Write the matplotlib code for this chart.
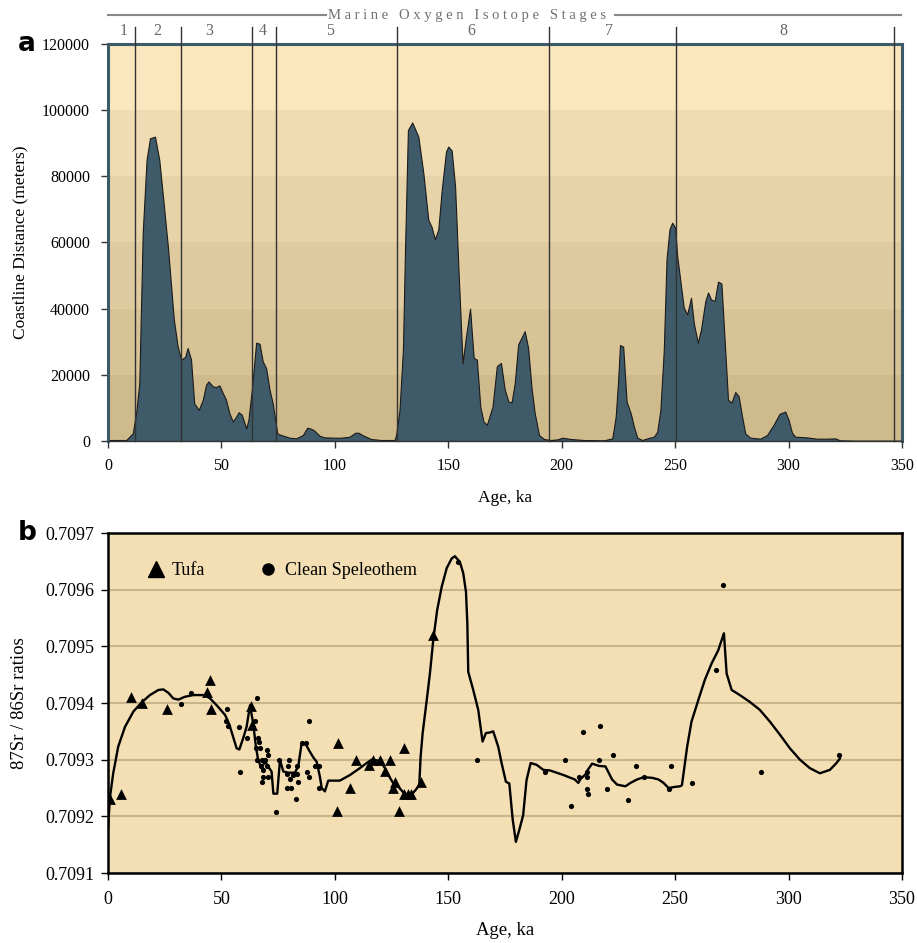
import numpy as np
import matplotlib
matplotlib.use("Agg")
import matplotlib.pyplot as plt
from matplotlib.lines import Line2D

plt.rcParams["font.family"] = ["Liberation Serif", "DejaVu Serif"]

# ---------- panel a: coastline distance ----------
age_a = [0, 5, 8, 10.9, 12.4, 13.8, 15.3, 17, 18.5, 20.7, 22.6, 24.5, 26.5, 29, 30.7, 32.2,
         34, 35.1, 36.6, 38, 40, 41.8, 43.2, 44.3, 46.2, 47.6, 49.1, 50.6, 52, 53.5, 55, 56.5,
         57.6, 59, 60.9, 61.9, 63.4, 65.3, 66.8, 68.2, 69.7, 71.2, 72.6, 74.6, 76.3, 77.8, 80,
         82.9, 85.9, 87.8, 89.6, 91, 93.2, 95.4, 99.9, 102.8, 106.5, 109, 110.4, 112.4, 116,
         120.4, 126.3, 127, 128.5, 130, 131, 132.2, 134.1, 136.8, 139, 141.2, 142.6, 144.1,
         145.6, 147.1, 149, 150, 151.5, 153, 154.6, 156.3, 157.8, 159.6, 161.2, 162.6, 164.1,
         165.5, 167, 169.5, 171.4, 173.2, 174.9, 176.5, 177.9, 179.3, 180.8, 183.7, 185.2,
         186.7, 188.1, 190, 192.2, 195.2, 198.1, 200.3, 204, 209.8, 218.6, 222.3, 223.8, 224.8,
         225.7, 227.1, 228.6, 230.4, 231.8, 233.3, 235.5, 237.7, 240.6, 242.1, 243.5, 245,
         246.2, 247.5, 248.7, 250, 250.9, 252.3, 253.8, 255.3, 257, 258.2, 260, 261.4, 263.3,
         264.5, 265.8, 267.4, 268.9, 270.4, 271.8, 273.3, 274.8, 276.5, 278, 279.5, 280.9,
         283.1, 287.5, 290.5, 293.4, 296, 298.5, 300, 301.5, 302.9, 308, 312.5, 316.9, 320.5,
         322.7, 330, 350]
dist_a = [300, 300, 300, 2300, 8400, 17500, 62900, 85000, 91500, 92000, 85000, 72000, 58000,
          36800, 28600, 24600, 25400, 28100, 24600, 11400, 9400, 12500, 17000, 18000, 16500,
          16300, 16800, 14500, 12500, 8400, 5900, 7400, 8700, 7900, 3800, 6400, 15500, 29700,
          29400, 24100, 22000, 15500, 11400, 2300, 1800, 1500, 1000, 800, 1800, 4000, 3700,
          3100, 1600, 1100, 1000, 1000, 1300, 2500, 2500, 1700, 600, 300, 300, 1800, 9400,
          27600, 60000, 94000, 96300, 92000, 81000, 66800, 64800, 61000, 64000, 75900, 87500,
          89000, 87800, 76900, 50000, 23500, 31600, 40000, 25100, 24600, 10400, 5900, 4900,
          10400, 22600, 23600, 15500, 11900, 11700, 17500, 29200, 33200, 28100, 16000, 8400,
          1800, 600, 300, 500, 1000, 600, 300, 200, 800, 7400, 17500, 29000, 28500, 11900,
          8400, 4400, 1000, 300, 800, 1300, 2800, 9400, 27600, 55000, 64000, 66000, 64500,
          56000, 48400, 40300, 38300, 43300, 35700, 29700, 33700, 42300, 44900, 42800, 42300,
          48200, 47600, 30700, 12500, 11600, 14800, 13500, 7400, 2300, 1000, 700, 1800, 4900,
          8200, 8900, 6400, 2500, 1300, 1100, 700, 700, 800, 200, 100, 100]

mis_bounds = [12, 32, 63.5, 74, 127.5, 194.5, 250.3, 346.4]
mis_labels = ["1", "2", "3", "4", "5", "6", "7", "8"]
mis_label_x = [7, 21.6, 44.5, 68.3, 98, 160, 221, 297.5]

band_colors = ["#CFBA8C", "#D7C396", "#DFCB9F", "#E7D3A8", "#F0DCB2", "#FBE7BE"]

# ---------- panel b: 87Sr/86Sr ----------
age_line = [0, 0.9, 2.3, 4.5, 7.5, 11.2, 14.8, 18.5, 22.2, 24.4, 26.6, 28.8, 31, 33.9, 37.6,
            42.7, 45, 47.9, 51.6, 53.5, 54.8, 56.7, 57.9, 59.6, 61.1, 62.6, 64, 65.2, 66.2,
            67.7, 69.2, 70.6, 72.1, 72.9, 74.6, 75.8, 77.3, 79.5, 82.4, 83.9, 84.6, 85.4, 87.3,
            89, 90.5, 92, 93.4, 94.2, 95.6, 97.1, 99.3, 102.2, 106.7, 111, 114, 116.2, 119.9,
            122.1, 124, 125.8, 128, 130.5, 133.1, 135.3, 137.2, 137.8, 138.7, 140.5, 141.9,
            143.4, 145.1, 147.1, 149.3, 151.5, 152.9, 155.1, 156.6, 157.8, 158.4, 158.8, 161,
            163.2, 165.1, 166.6, 168.4, 169.8, 172, 173.5, 175.4, 176.9, 178.4, 179.8, 181.3,
            183, 184.5, 186.3, 188.9, 191.9, 194.8, 200.7, 205.8, 207.3, 208.3, 210.5, 211.5,
            213.4, 216.4, 219.3, 220.8, 222.2, 224.4, 228.1, 230.3, 233.2, 236.1, 239.8, 242.7,
            244.9, 247.1, 250, 252.2, 253, 254, 255.3, 257.2, 260.2, 263.1, 266.1, 269, 271.5,
            272.7, 274.9, 278.5, 282.9, 287.3, 291.8, 296.2, 300.6, 305, 309.4, 313.8, 318.2,
            321.1, 322.6]
sr_line = [0.70918, 0.709235, 0.709276, 0.709323, 0.709358, 0.709385, 0.709401, 0.709414,
           0.709423, 0.709424, 0.709418, 0.709408, 0.709406, 0.709411, 0.709414, 0.709414,
           0.709408, 0.709396, 0.709379, 0.709362, 0.709345, 0.70932, 0.709318, 0.709338,
           0.709358, 0.709396, 0.709364, 0.709323, 0.709299, 0.709285, 0.709297, 0.709288,
           0.709279, 0.70924, 0.70924, 0.709299, 0.709279, 0.709277, 0.709277, 0.709289,
           0.709308, 0.70933, 0.709326, 0.709314, 0.709304, 0.709296, 0.70927, 0.70925,
           0.709244, 0.709263, 0.709263, 0.709263, 0.709273, 0.709285, 0.709294, 0.7093,
           0.709298, 0.709285, 0.70927, 0.709258, 0.709252, 0.709241, 0.709236, 0.709245,
           0.709255, 0.709305, 0.709347, 0.709405, 0.709452, 0.709512, 0.709564, 0.709605,
           0.709638, 0.709655, 0.709659, 0.709649, 0.709629, 0.709596, 0.70954, 0.709455,
           0.709423, 0.709388, 0.709332, 0.709347, 0.709348, 0.70935, 0.709323, 0.709294,
           0.709261, 0.709258, 0.709194, 0.709155, 0.709176, 0.709202, 0.709264, 0.709294,
           0.709291, 0.709282, 0.709281, 0.709273, 0.709265, 0.709259, 0.709266, 0.709274,
           0.709282, 0.709293, 0.709289, 0.709288, 0.709276, 0.709265, 0.709256, 0.709253,
           0.709259, 0.709265, 0.709269, 0.709268, 0.709265, 0.709259, 0.70925, 0.709252,
           0.709253, 0.709255, 0.709285, 0.709323, 0.709367, 0.709405, 0.709441, 0.70947,
           0.709493, 0.709523, 0.709452, 0.709423, 0.709414, 0.709402, 0.709388, 0.709367,
           0.709344, 0.70932, 0.7093, 0.709285, 0.709276, 0.709282, 0.709294, 0.709302]

tufa_age = [1.0, 5.8, 10.1, 15.2, 25.8, 43.6, 45.0, 45.3, 62.9, 63.3, 101.5, 101.0, 106.6,
            109.4, 115.0, 117.0, 119.9, 124.2, 122.2, 125.5, 126.7, 128.2, 130.4, 130.4,
            132.1, 133.7, 138.1, 143.4]
tufa_sr = [0.70923, 0.70924, 0.70941, 0.70940, 0.70939, 0.70942, 0.70944, 0.70939, 0.709394,
           0.709361, 0.70933, 0.70921, 0.70925, 0.70930, 0.70929, 0.70930, 0.70930, 0.70930,
           0.70928, 0.70925, 0.70926, 0.70921, 0.70932, 0.70924, 0.70924, 0.70924, 0.70926,
           0.70952]

spel_age = [32.1, 36.8, 52.3, 52.0, 53.0, 57.9, 58.2, 61.1, 64.8, 64.0, 65.8, 66.2, 66.7,
            65.2, 67.0, 69.9, 70.7, 65.8, 67.7, 69.2, 67.3, 69.9, 68.4, 68.2, 70.7, 67.7, 75.2,
            74.0, 79.9, 79.5, 79.0, 81.4, 80.2, 83.4, 83.1, 83.6, 79.0, 80.5, 82.8, 85.4, 87.3,
            88.7, 87.8, 88.7, 91.2, 93.1, 93.1, 154.4, 162.8, 192.7, 201.3, 204.0, 207.6, 209.5,
            211.3, 211.3, 211.0, 211.5, 216.4, 216.7, 220.0, 222.7, 229.2, 232.9, 236.1, 247.5,
            248.2, 257.6, 267.8, 271.2, 288.0, 322.4]
spel_sr = [0.709398, 0.709418, 0.709389, 0.709369, 0.709359, 0.709358, 0.709279, 0.709339,
           0.709369, 0.709358, 0.709408, 0.709339, 0.709332, 0.70932, 0.70932, 0.709317,
           0.709308, 0.709299, 0.709299, 0.709299, 0.709289, 0.709289, 0.709281, 0.709269,
           0.70927, 0.70926, 0.709299, 0.709208, 0.709299, 0.709289, 0.709275, 0.709273,
           0.709265, 0.709289, 0.709275, 0.70926, 0.70925, 0.70925, 0.70923, 0.70933, 0.70933,
           0.709368, 0.709279, 0.709269, 0.709289, 0.709289, 0.70925, 0.709649, 0.7093,
           0.709279, 0.709299, 0.709219, 0.709269, 0.709349, 0.709278, 0.709269, 0.709249,
           0.709239, 0.709299, 0.709359, 0.709249, 0.709309, 0.709229, 0.709289, 0.709269,
           0.709249, 0.709289, 0.709259, 0.709458, 0.709608, 0.709279, 0.709308]

fig = plt.figure(figsize=(9.17, 9.43), dpi=100)

# ===== panel a =====
ax1 = fig.add_axes([108 / 917, 1 - 441 / 943, 794 / 917, 397 / 943])
for i, c in enumerate(band_colors):
    ax1.axhspan(i * 20000, (i + 1) * 20000, color=c, lw=0, zorder=0)
ax1.fill_between(age_a, dist_a, 0, facecolor="#3F5A68", edgecolor="#1a1a1a", lw=0.8, zorder=2)
for b in mis_bounds:
    ax1.plot([b, b], [0, 1.043], color="#333333", lw=1.0, zorder=3,
             transform=ax1.get_xaxis_transform(), clip_on=False)
for x, lab in zip(mis_label_x, mis_labels):
    ax1.text(x, 1.033, lab, transform=ax1.get_xaxis_transform(), ha="center", va="center",
             fontsize=11.5, color="#666666")
ax1.text(0.452, 1.072, "M a r i n e   O x y g e n   I s o t o p e   S t a g e s",
         transform=ax1.transAxes, ha="center", va="center", fontsize=10.5, color="#6f6f6f")
ax1.plot([0, 0.274], [1.072, 1.072], transform=ax1.transAxes, color="#888888", lw=1.5,
         clip_on=False)
ax1.plot([0.638, 0.999], [1.072, 1.072], transform=ax1.transAxes, color="#888888", lw=1.5,
         clip_on=False)

ax1.set_xlim(0, 350)
ax1.set_ylim(0, 120000)
ax1.set_xticks(range(0, 351, 50))
ax1.set_yticks(range(0, 120001, 20000))
ax1.tick_params(direction="out", length=5, width=1, labelsize=11.5, color="#333333")
ax1.tick_params(axis="y", pad=8)
ax1.tick_params(axis="x", pad=7)
for s in ["top", "left", "right"]:
    ax1.spines[s].set_color("#3D5A6A")
    ax1.spines[s].set_linewidth(2.2)
ax1.spines["bottom"].set_color("#333333")
ax1.spines["bottom"].set_linewidth(1.0)
ax1.set_xlabel("Age, ka", fontsize=12.5, labelpad=12)
ax1.set_ylabel("Coastline Distance (meters)", fontsize=12.5, labelpad=10)
fig.text(18 / 917, 1 - 44 / 943, "a", fontsize=19, fontweight="bold",
         family="DejaVu Sans", va="center", ha="left")

# ===== panel b =====
ax2 = fig.add_axes([108 / 917, 1 - 873 / 943, 794 / 917, 340 / 943])
ax2.set_facecolor("#F3DFB3")
ax2.set_xlim(0, 350)
ax2.set_ylim(0.7091, 0.7097)
ax2.set_yticks(np.arange(0.7091, 0.70971, 0.0001))
ax2.yaxis.set_major_formatter(matplotlib.ticker.FormatStrFormatter("%.4f"))
ax2.set_xticks(range(0, 351, 50))
ax2.grid(axis="y", color="#C9B58C", lw=1.5, zorder=0)
ax2.set_axisbelow(True)
ax2.plot(age_line, sr_line, color="black", lw=1.7, zorder=3)
ax2.scatter(tufa_age, tufa_sr, marker="^", s=60, color="black", zorder=4, lw=0)
ax2.scatter(spel_age, spel_sr, marker="o", s=14, color="black", zorder=4, lw=0)
for s in ax2.spines.values():
    s.set_color("black")
    s.set_linewidth(1.8)
ax2.tick_params(direction="out", length=5, width=1, labelsize=13)
ax2.tick_params(axis="x", pad=8)
ax2.tick_params(axis="y", pad=5)
ax2.set_xlabel("Age, ka", fontsize=13.5, labelpad=10)
ax2.set_ylabel("87Sr / 86Sr ratios", fontsize=13.5, labelpad=12)

handles = [Line2D([], [], marker="^", color="black", ls="none", markersize=11),
           Line2D([], [], marker="o", color="black", ls="none", markersize=8)]
ax2.legend(handles, ["Tufa", "Clean Speleothem"], loc="center left",
           bbox_to_anchor=(0.028, 0.89), ncol=2, frameon=False, fontsize=13,
           handlelength=1.0, handletextpad=0.4, columnspacing=3.0)
fig.text(18 / 917, 1 - 533 / 943, "b", fontsize=19, fontweight="bold",
         family="DejaVu Sans", va="center", ha="left")

fig.savefig("out.png", dpi=100, facecolor="white")
